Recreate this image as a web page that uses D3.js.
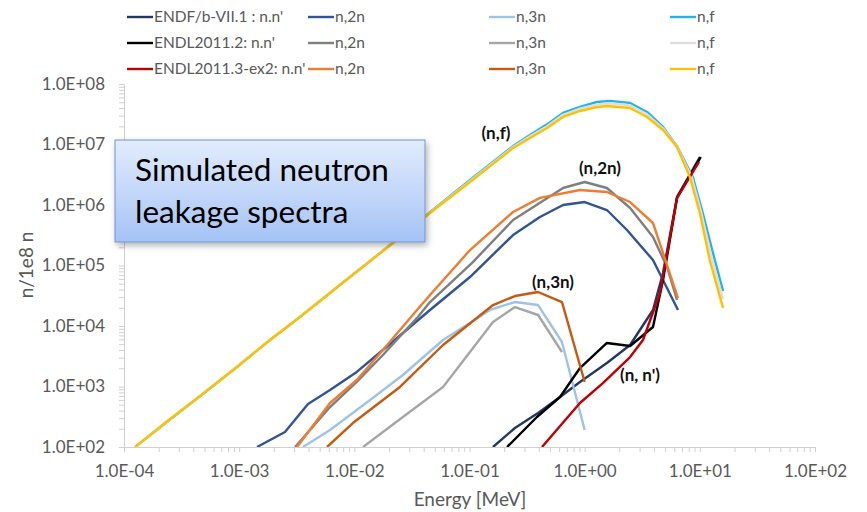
<!DOCTYPE html>
<html><head><meta charset="utf-8">
<script src="https://cdn.jsdelivr.net/npm/d3@7"></script>
<style>body{margin:0;background:#fff}svg{display:block}</style>
</head><body>
<svg id="chart" width="867" height="512"></svg>
<script>
// ---------- DATA (Energy [MeV], n/1e8 n) ----------
const endfNn   = [[0.160,100],[0.248,206],[0.394,365],[0.611,670],[0.910,1190],[1.56,2440],[2.48,4850],[3.92,18400],[4.79,75200],[6.34,1.36e6],[10.0,6.21e6]];
const endf2n   = [[1.43e-3,100],[2.50e-3,177],[3.96e-3,514],[6.15e-3,875],[1.05e-2,1740],[1.77e-2,4010],[4.54e-2,18400],[0.101,64500],[0.239,3.19e5],[0.409,6.34e5],[0.649,1.0e6],[1.0,1.12e6],[1.56,8.26e5],[2.33,3.86e5],[3.92,1.23e5],[6.46,18400]];
const endf3n   = [[3.58e-3,100],[6.15e-3,191],[1.37e-2,598],[2.64e-2,1550],[5.89e-2,5870],[0.151,18400],[0.248,24900],[0.394,22200],[0.635,5440],[1.0,191]];
const endfNf   = [[1.25e-4,100],[2.27e-4,245],[4.57e-4,690],[9.57e-4,2100],[1.85e-3,5870],[3.37e-3,14100],[7.5e-3,47600],[2.17e-2,2.40e5],[4.54e-2,7.6e5],[0.101,2.6e6],[0.239,9.4e6],[0.335,1.43e7],[0.471,2.15e7],[0.649,3.32e7],[0.910,4.17e7],[1.28,5.04e7],[1.66,5.24e7],[2.48,4.85e7],[3.48,3.45e7],[4.79,1.95e7],[6.34,9.3e6],[8.7,2.90e6],[10.6,7.38e5],[13.0,1.61e5],[15.9,37900]];
const endl2Nn  = [[0.212,100],[0.385,313],[0.611,670],[0.910,2020],[1.56,5240],[2.48,4670],[3.92,9620],[4.79,57500],[6.34,1.31e6],[10.2,6.21e6]];
const endl22n  = [[3.06e-3,100],[6.15e-3,458],[1.05e-2,1190],[1.77e-2,3320],[3.50e-2,13600],[4.54e-2,24900],[0.107,1.14e5],[0.239,5.65e5],[0.649,1.91e6],[1.0,2.40e6],[1.56,1.91e6],[2.48,8.91e5],[3.92,2.96e5],[5.19,94400],[6.34,26900]];
const endl23n  = [[1.19e-2,100],[2.64e-2,313],[5.89e-2,982],[0.160,11600],[0.248,20600],[0.394,15200],[0.635,3720]];
const endl2Nf  = [[1.25e-4,100],[2.27e-4,247],[4.57e-4,694],[9.57e-4,2100],[1.85e-3,5870],[3.37e-3,14100],[7.5e-3,47600],[2.17e-2,2.38e5],[4.54e-2,7.5e5],[0.101,2.5e6],[0.239,9.1e6],[0.335,1.37e7],[0.471,2.0e7],[0.649,3.1e7],[0.910,3.9e7],[1.28,4.6e7],[1.66,4.8e7],[2.48,4.45e7],[3.48,3.15e7],[4.79,1.85e7],[6.34,9.2e6],[8.5,2.9e6],[10.3,7.4e5],[12.6,1.4e5],[15.9,28000]];
const endl3Nn  = [[0.426,100],[0.910,534],[1.44,1140],[2.48,3070],[3.21,5870],[4.51,35100],[6.34,1.31e6],[9.84,5.14e6]];
const endl32n  = [[3.18e-3,100],[6.15e-3,534],[1.05e-2,1280],[1.77e-2,4010],[3.50e-2,18400],[4.54e-2,32500],[0.101,1.80e5],[0.239,7.66e5],[0.409,1.31e6],[0.910,1.77e6],[1.56,1.64e6],[2.48,1.12e6],[3.92,5.04e5],[4.79,1.61e5],[6.46,29000]];
const endl33n  = [[5.79e-3,100],[9.72e-3,249],[2.49e-2,982],[5.89e-2,4850],[0.160,22200],[0.248,31300],[0.394,36500],[0.635,24900],[1.0,1190]];
const endl3Nf  = [[1.25e-4,100],[2.27e-4,249],[4.57e-4,697],[9.57e-4,2100],[1.85e-3,5870],[3.37e-3,14100],[7.5e-3,47600],[2.17e-2,2.36e5],[4.54e-2,7.38e5],[0.101,2.40e6],[0.239,8.75e6],[0.335,1.28e7],[0.471,1.87e7],[0.649,2.85e7],[0.910,3.58e7],[1.28,4.17e7],[1.56,4.33e7],[2.48,4.01e7],[3.48,2.85e7],[4.79,1.74e7],[6.34,9.1e6],[8.2,2.90e6],[10.0,7.38e5],[12.2,1.23e5],[15.9,19900]];

const seriesLabels = ["ENDF/b-VII.1 : n.n'","n,2n","n,3n","n,f",
                      "ENDL2011.2: n.n'","n,2n","n,3n","n,f",
                      "ENDL2011.3-ex2: n.n'","n,2n","n,3n","n,f"];
const seriesData = [endfNn,endf2n,endf3n,endfNf,endl2Nn,endl22n,endl23n,endl2Nf,endl3Nn,endl32n,endl33n,endl3Nf];
const seriesColors = ["#203864","#2f5597","#9dc3e6","#1eb4ec",
                      "#000000","#7f7f7f","#a6a6a6","#dedede",
                      "#c00000","#ed7d31","#c55a11","#ffc000"];
const xMajor = [1e-4,1e-3,1e-2,1e-1,1e0,1e1,1e2];
const yMajor = [1e2,1e3,1e4,1e5,1e6,1e7,1e8];
const annotations = [["(n,f)",496,133],["(n,2n)",600,168],["(n,3n)",553,282],["(n, n')",640,375]];
const boxLines = ["Simulated neutron","leakage spectra"];

// ---------- DRAW ----------
const svg = d3.select("#chart");
const FONT = "Lato, 'Open Sans', sans-serif";
const x = d3.scaleLog().domain([1e-4,1e2]).range([124,815]);
const y = d3.scaleLog().domain([1e2,1e8]).range([447,84]);

function minors(majors){
  const out=[];
  majors.forEach((m,i)=>{ out.push(m); if(i<majors.length-1) for(let k=2;k<10;k++) out.push(m*k); });
  return out;
}
function fmt(d){
  const e=Math.round(Math.log10(d));
  return "1.0E"+(e<0?"-":"+")+String(Math.abs(e)).padStart(2,"0");
}
const isMajor = (arr)=>d=>arr.some(m=>Math.abs(m-d)/m<1e-9);

const defs = svg.append("defs");
defs.append("clipPath").attr("id","plotclip").append("rect")
  .attr("x",124).attr("y",80).attr("width",700).attr("height",367);
const grad = defs.append("linearGradient").attr("id","boxgrad").attr("x1",0).attr("y1",0).attr("x2",0).attr("y2",1);
grad.append("stop").attr("offset","0%").attr("stop-color","#e2ecfd");
grad.append("stop").attr("offset","100%").attr("stop-color","#a5c3f5");
const filt = defs.append("filter").attr("id","shadow").attr("x","-10%").attr("y","-10%").attr("width","130%").attr("height","140%");
filt.append("feDropShadow").attr("dx",2).attr("dy",3).attr("stdDeviation",3).attr("flood-color","#000").attr("flood-opacity",0.3);

// axes
const xAxis = d3.axisBottom(x).tickValues(minors(xMajor)).tickSize(5).tickSizeOuter(0).tickPadding(13)
  .tickFormat(d=>isMajor(xMajor)(d)?fmt(d):"");
const gx = svg.append("g").attr("transform","translate(0,447)").call(xAxis);
const yAxis = d3.axisLeft(y).tickValues(minors(yMajor)).tickSize(5).tickSizeOuter(0).tickPadding(14)
  .tickFormat(d=>isMajor(yMajor)(d)?fmt(d):"");
const gy = svg.append("g").attr("transform","translate(124,0)").call(yAxis);
[gx,gy].forEach(g=>{
  g.selectAll("path,line").attr("stroke","#d0d0d0").attr("stroke-width",1);
  g.selectAll("text").attr("fill","#595959").style("font-family",FONT).style("font-size","17px");
});

svg.append("text").attr("x",470).attr("y",506).attr("text-anchor","middle")
  .attr("fill","#595959").style("font-family",FONT).style("font-size","19px").text("Energy [MeV]");
svg.append("text").attr("transform","translate(33,265) rotate(-90)").attr("text-anchor","middle")
  .attr("fill","#595959").style("font-family",FONT).style("font-size","19px").text("n/1e8 n");

// series
const line = d3.line().x(d=>x(d[0])).y(d=>y(d[1]));
const plot = svg.append("g").attr("clip-path","url(#plotclip)");
seriesData.forEach((data,i)=>{
  plot.append("path").datum(data).attr("d",line).attr("fill","none")
    .attr("stroke",seriesColors[i]).attr("stroke-width",2.4).attr("stroke-linejoin","round");
});

// annotations
annotations.forEach(a=>{
  svg.append("text").attr("x",a[1]).attr("y",a[2]).attr("dy","0.35em").attr("text-anchor","middle")
    .style("font-family",FONT).style("font-weight","bold").style("font-size","17px").attr("fill","#111").text(a[0]);
});

// legend
const colX=[127,308,489,670], rowY=[17,43,69];
seriesLabels.forEach((lab,i)=>{
  const cx=colX[i%4], cy=rowY[Math.floor(i/4)];
  svg.append("line").attr("x1",cx).attr("x2",cx+26).attr("y1",cy).attr("y2",cy)
    .attr("stroke",seriesColors[i]).attr("stroke-width",2.4);
  svg.append("text").attr("x",cx+27).attr("y",cy).attr("dy","0.35em")
    .attr("fill","#595959").style("font-family",FONT).style("font-size","15.5px").text(lab);
});

// text box
const bx=115, by=140, bw=310, bh=102;
svg.append("rect").attr("x",bx).attr("y",by).attr("width",bw).attr("height",bh)
  .attr("fill","url(#boxgrad)").attr("stroke","#6f93d2").attr("stroke-width",1).attr("filter","url(#shadow)");
boxLines.forEach((t,i)=>{
  svg.append("text").attr("x",135).attr("y",181+i*42).attr("fill","#000")
    .style("font-family",FONT).style("font-size","31.5px").text(t);
});
</script>
</body></html>
